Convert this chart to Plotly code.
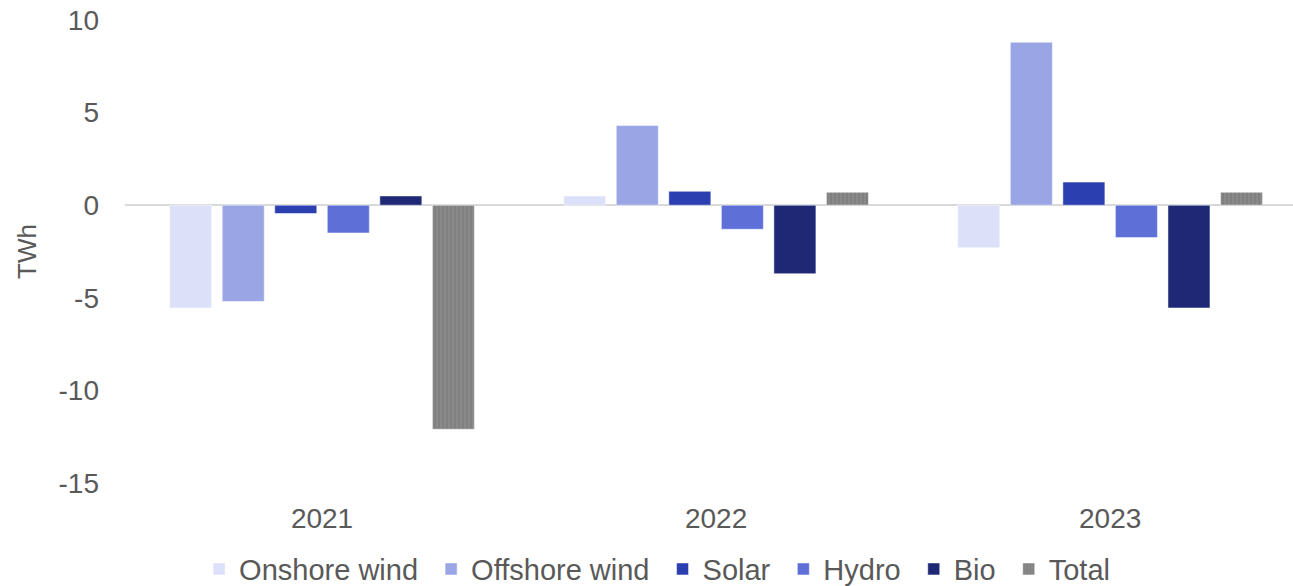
import plotly.graph_objects as go

years = ["2021", "2022", "2023"]
series_names = ["Onshore wind", "Offshore wind", "Solar", "Hydro", "Bio", "Total"]
onshore = [-5.55, 0.5, -2.3]
offshore = [-5.2, 4.3, 8.8]
solar = [-0.45, 0.75, 1.25]
hydro = [-1.5, -1.3, -1.75]
bio = [0.5, -3.7, -5.55]
total = [-12.1, 0.7, 0.7]
y_ticks = [-15, -10, -5, 0, 5, 10]
y_tick_labels = ["-15", "-10", "-5", "0", "5", "10"]
colors = ["#dce0f8", "#99a5e5", "#2b3fb0", "#5e6fd8", "#1e2875", "#858585"]
values = [onshore, offshore, solar, hydro, bio, total]

fig = go.Figure()
for name, vals, col in zip(series_names, values, colors):
    marker = dict(color=col, line=dict(color="rgba(255,255,255,0.5)", width=1))
    if name == "Total":
        marker["pattern"] = dict(shape="|", fgcolor="#6c6c6c", bgcolor="#8a8a8a",
                                 size=4, solidity=0.35)
    fig.add_trace(go.Bar(x=years, y=vals, name=name + "\u00a0", marker=marker))

font_family = "Liberation Sans, Arial, sans-serif"
grey = "#595959"
fig.update_layout(
    width=1293, height=586,
    margin=dict(l=125, r=0, t=20, b=103, autoexpand=False),
    paper_bgcolor="white", plot_bgcolor="white",
    barmode="group", bargap=0.2, bargroupgap=0.2,
    font=dict(family=font_family, color=grey, size=26),
    legend=dict(orientation="h", x=0.459, xanchor="center", xref="paper",
                y=-0.186, yanchor="middle", font=dict(size=29, color=grey),
                itemwidth=30, tracegroupgap=0),
    xaxis=dict(range=[-0.5, 2.464], showgrid=False, showline=False, ticks="",
               automargin=False, ticklabeloverflow="allow",
               tickfont=dict(size=28, color=grey), ticklabelstandoff=16),
    yaxis=dict(range=[-15, 10], tickvals=y_ticks, ticktext=y_tick_labels,
               showgrid=False, automargin=False, ticklabeloverflow="allow",
               zeroline=True, zerolinecolor="#d9d9d9", zerolinewidth=2,
               showline=False, ticks="",
               tickfont=dict(size=28, color=grey), ticklabelstandoff=25,
               title=dict(text="TWh", font=dict(size=26, color=grey), standoff=14)),
)
fig.write_html("out.html",
               config={"displayModeBar": False},
               post_script="document.body.style.margin='0';document.body.style.overflow='hidden';")
